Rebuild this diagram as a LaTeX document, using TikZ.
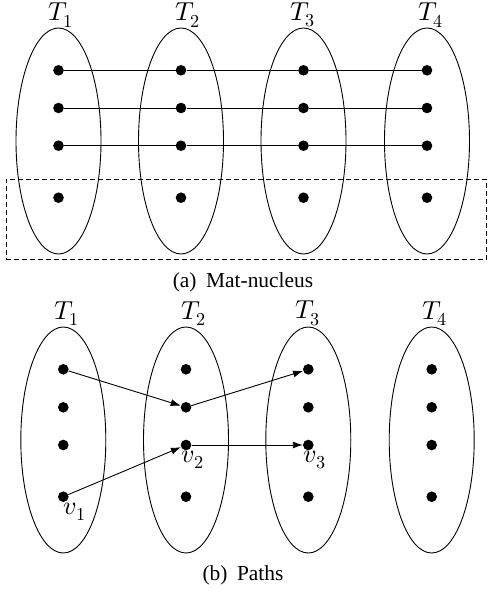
\documentclass[tikz,border=0pt]{standalone}
\usepackage{fontspec}
\usepackage{unicode-math}
\setmainfont{Liberation Serif}
\setmathfont{Latin Modern Math}
\usetikzlibrary{shapes.geometric,arrows.meta}
\begin{document}
\begin{tikzpicture}[x=1pt,y=-1pt,
  dot/.style={circle,fill=black,inner sep=0pt,minimum size=10.6pt},
  part/.style={ellipse,draw,line width=0.9pt,minimum width=85pt,minimum height=226pt,inner sep=0pt},
  tlab/.style={font=\fontsize{26}{30}\selectfont,inner sep=0pt},
  vlab/.style={font=\fontsize{26}{30}\selectfont,inner sep=0pt},
  captext/.style={font=\fontsize{21.4}{25}\selectfont,inner sep=0pt},
  link/.style={line width=0.9pt},
  arr/.style={line width=0.9pt,-{Latex[length=10pt,width=7pt]}}]
\useasboundingbox (0,0) rectangle (488,592);
% ---------- (a) ----------
\foreach \i/\x/\lx in {1/58.5/61,2/181/188,3/303.5/303,4/427/431}{
  \node[part] (A\i) at (\x,141) {};
  \node[tlab] (TA\i) at (\lx,15) {$T_{\i}$};
  \foreach \j/\y in {1/70.3,2/108,3/145.7,4/197.7}{
    \node[dot] (a\i\j) at (\x,\y) {};
  }
}
\foreach \j in {1,2,3}{
  \draw[link] (a1\j) -- (a2\j) -- (a3\j) -- (a4\j);
}
\node[draw,dashed,dash pattern=on 5pt off 3pt,line width=0.9pt,inner sep=0pt,
  minimum width=480.5pt,minimum height=80pt] (box) at (246.25,219) {};
\node[captext] (capa) at (243,282) {(a)\hspace{0.45em}Mat-nucleus};
% ---------- (b) ----------
\foreach \i/\x/\lx in {1/63.3/66.7,2/186/194,3/308.3/308,4/431.7/435}{
  \node[part] (B\i) at (\x,440) {};
  \node[tlab] (TB\i) at (\lx,313.5) {$T_{\i}$};
  \foreach \j/\y in {1/369.3,2/407.3,3/445,4/496.7}{
    \node[dot] (b\i\j) at (\x,\y) {};
  }
}
\draw[arr] (b11) -- (b22);
\draw[arr] (b22) -- (b31);
\draw[arr] (b14) -- (b23);
\draw[arr] (b23) -- (b33);
\node[vlab] (v1) at (75,512) {$v_1$};
\node[vlab] (v2) at (193,460) {$v_2$};
\node[vlab] (v3) at (315,460) {$v_3$};
\node[captext] (capb) at (243,575) {(b)\hspace{0.45em}Paths};
\end{tikzpicture}
\end{document}
